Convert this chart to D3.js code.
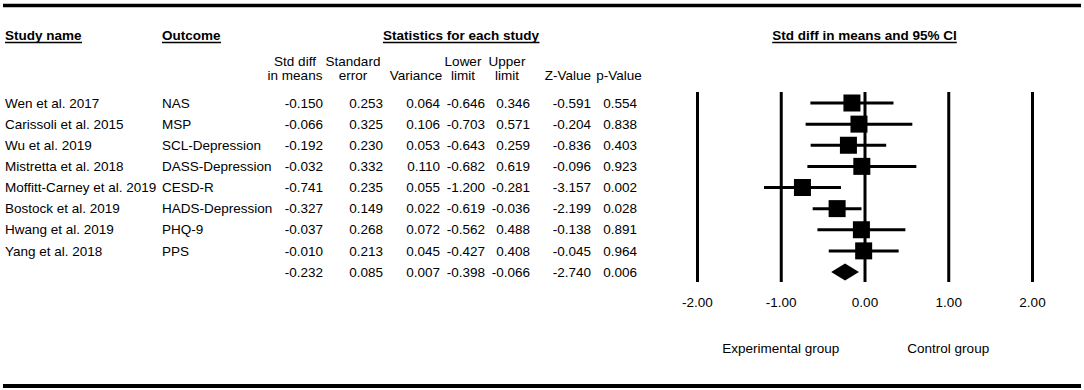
<!DOCTYPE html>
<html>
<head>
<meta charset="utf-8">
<script src="https://cdn.jsdelivr.net/npm/d3@7"></script>
<style>
  body { margin: 0; background: #fff; }
  svg { display: block; font-family: Arial, "Liberation Sans", sans-serif; }
  text { fill: #000; font-size: 13.5px; }
  .bold { font-weight: bold; }
</style>
</head>
<body>
<svg width="1084" height="390"></svg>
<script>
"use strict";

// 연구별 데이터
const studies = ["Wen et al. 2017", "Carissoli et al. 2015", "Wu et al. 2019", "Mistretta et al. 2018",
  "Moffitt-Carney et al. 2019", "Bostock et al. 2019", "Hwang et al. 2019", "Yang et al. 2018"];
const outcomes = ["NAS", "MSP", "SCL-Depression", "DASS-Depression", "CESD-R", "HADS-Depression", "PHQ-9", "PPS"];
const stdDiff = [-0.150, -0.066, -0.192, -0.032, -0.741, -0.327, -0.037, -0.010];
const stdErr = [0.253, 0.325, 0.230, 0.332, 0.235, 0.149, 0.268, 0.213];
const variance = [0.064, 0.106, 0.053, 0.110, 0.055, 0.022, 0.072, 0.045];
const lower = [-0.646, -0.703, -0.643, -0.682, -1.200, -0.619, -0.562, -0.427];
const upper = [0.346, 0.571, 0.259, 0.619, -0.281, -0.036, 0.488, 0.408];
const zValue = [-0.591, -0.204, -0.836, -0.096, -3.157, -2.199, -0.138, -0.045];
const pValue = [0.554, 0.838, 0.403, 0.923, 0.002, 0.028, 0.891, 0.964];

// 종합(summary) 행: std diff, SE, variance, lower, upper, Z, p
const summary = [-0.232, 0.085, 0.007, -0.398, -0.066, -2.740, 0.006];

const colHeads = [["Std diff", "in means"], ["Standard", "error"], ["", "Variance"], ["Lower", "limit"],
  ["Upper", "limit"], ["", "Z-Value"], ["", "p-Value"]];
const axisTicks = [-2, -1, 0, 1, 2];

const svg = d3.select("svg");
// 유니코드 마이너스 대신 일반 하이픈 사용
const locale = d3.formatLocale({ decimal: ".", thousands: ",", grouping: [3], currency: ["", ""], minus: "-" });
const fmt = locale.format(".3f");

// 행 위치 (연구 8개 + 종합 1행)
const yScale = d3.scalePoint().domain(d3.range(studies.length + 1)).range([103, 272]);
// 효과크기 축
const xScale = d3.scaleLinear().domain([-2, 2]).range([697, 1032]);

// 위, 아래 굵은 가로선
svg.append("line").attr("x1", 3).attr("x2", 1081).attr("y1", 5.5).attr("y2", 5.5)
  .attr("stroke", "#000").attr("stroke-width", 3.5);
svg.append("line").attr("x1", 3).attr("x2", 1081).attr("y1", 386).attr("y2", 386)
  .attr("stroke", "#000").attr("stroke-width", 4);

// 밑줄 있는 굵은 제목
function title(x, anchor, str) {
  const t = svg.append("text").attr("class", "bold").attr("x", x).attr("y", 35).attr("dy", "0.35em")
    .attr("text-anchor", anchor).text(str);
  const b = t.node().getBBox();
  svg.append("line").attr("x1", b.x).attr("x2", b.x + b.width).attr("y1", 42.5).attr("y2", 42.5)
    .attr("stroke", "#000").attr("stroke-width", 1.5);
}
title(5, "start", "Study name");
title(162, "start", "Outcome");
title(461, "middle", "Statistics for each study");
title(xScale(0), "middle", "Std diff in means and 95% CI");

// 통계 열 (값은 오른쪽 정렬, 머리글은 가운데)
const colRight = [323, 383, 440, 485, 530, 591, 637];
const colHeadX = [295, 353, 416, 463, 507, 568, 619];
colHeads.forEach(function (h, i) {
  h.forEach(function (s, j) {
    svg.append("text").attr("x", colHeadX[i]).attr("y", 61 + j * 14.5).attr("dy", "0.35em")
      .attr("text-anchor", "middle").text(s);
  });
});

const cols = [stdDiff, stdErr, variance, lower, upper, zValue, pValue];
studies.forEach(function (s, i) {
  svg.append("text").attr("x", 5).attr("y", yScale(i)).attr("dy", "0.35em").text(s);
  svg.append("text").attr("x", 162).attr("y", yScale(i)).attr("dy", "0.35em").text(outcomes[i]);
  cols.forEach(function (c, k) {
    svg.append("text").attr("x", colRight[k]).attr("y", yScale(i)).attr("dy", "0.35em")
      .attr("text-anchor", "end").text(fmt(c[i]));
  });
});
summary.forEach(function (v, k) {
  svg.append("text").attr("x", colRight[k]).attr("y", yScale(studies.length)).attr("dy", "0.35em")
    .attr("text-anchor", "end").text(fmt(v));
});

// 축 + 세로 기준선 (tickSize 를 음수로 줘서 위로 그림)
const xAxis = d3.axisBottom(xScale).tickValues(axisTicks).tickFormat(locale.format(".2f"))
  .tickSizeInner(-190).tickSizeOuter(0).tickPadding(15);
const axisG = svg.append("g").attr("transform", "translate(0,282)").call(xAxis);
axisG.select(".domain").remove();
axisG.selectAll(".tick line").attr("stroke", "#000").attr("stroke-width", 3);
axisG.selectAll(".tick text").attr("font-size", 13.5).attr("font-family", null).style("fill", "#000");

// 신뢰구간 선
svg.selectAll("line.ci").data(studies).enter().append("line").attr("class", "ci")
  .attr("x1", (d, i) => xScale(lower[i])).attr("x2", (d, i) => xScale(upper[i]))
  .attr("y1", (d, i) => yScale(i)).attr("y2", (d, i) => yScale(i))
  .attr("stroke", "#000").attr("stroke-width", 3);

// 효과크기 사각형
const box = 17;
svg.selectAll("rect.pt").data(studies).enter().append("rect").attr("class", "pt")
  .attr("x", (d, i) => xScale(stdDiff[i]) - box / 2).attr("y", (d, i) => yScale(i) - box / 2)
  .attr("width", box).attr("height", box).attr("fill", "#000");

// 종합 효과 다이아몬드
const yS = yScale(studies.length);
svg.append("path")
  .attr("d", "M" + xScale(summary[3]) + "," + yS + "L" + xScale(summary[0]) + "," + (yS - 8.5) +
    "L" + xScale(summary[4]) + "," + yS + "L" + xScale(summary[0]) + "," + (yS + 8.5) + "Z")
  .attr("fill", "#000");

// 축 설명
svg.append("text").attr("x", xScale(-1)).attr("y", 348).attr("dy", "0.35em")
  .attr("text-anchor", "middle").text("Experimental group");
svg.append("text").attr("x", xScale(1)).attr("y", 348).attr("dy", "0.35em")
  .attr("text-anchor", "middle").text("Control group");
</script>
</body>
</html>
